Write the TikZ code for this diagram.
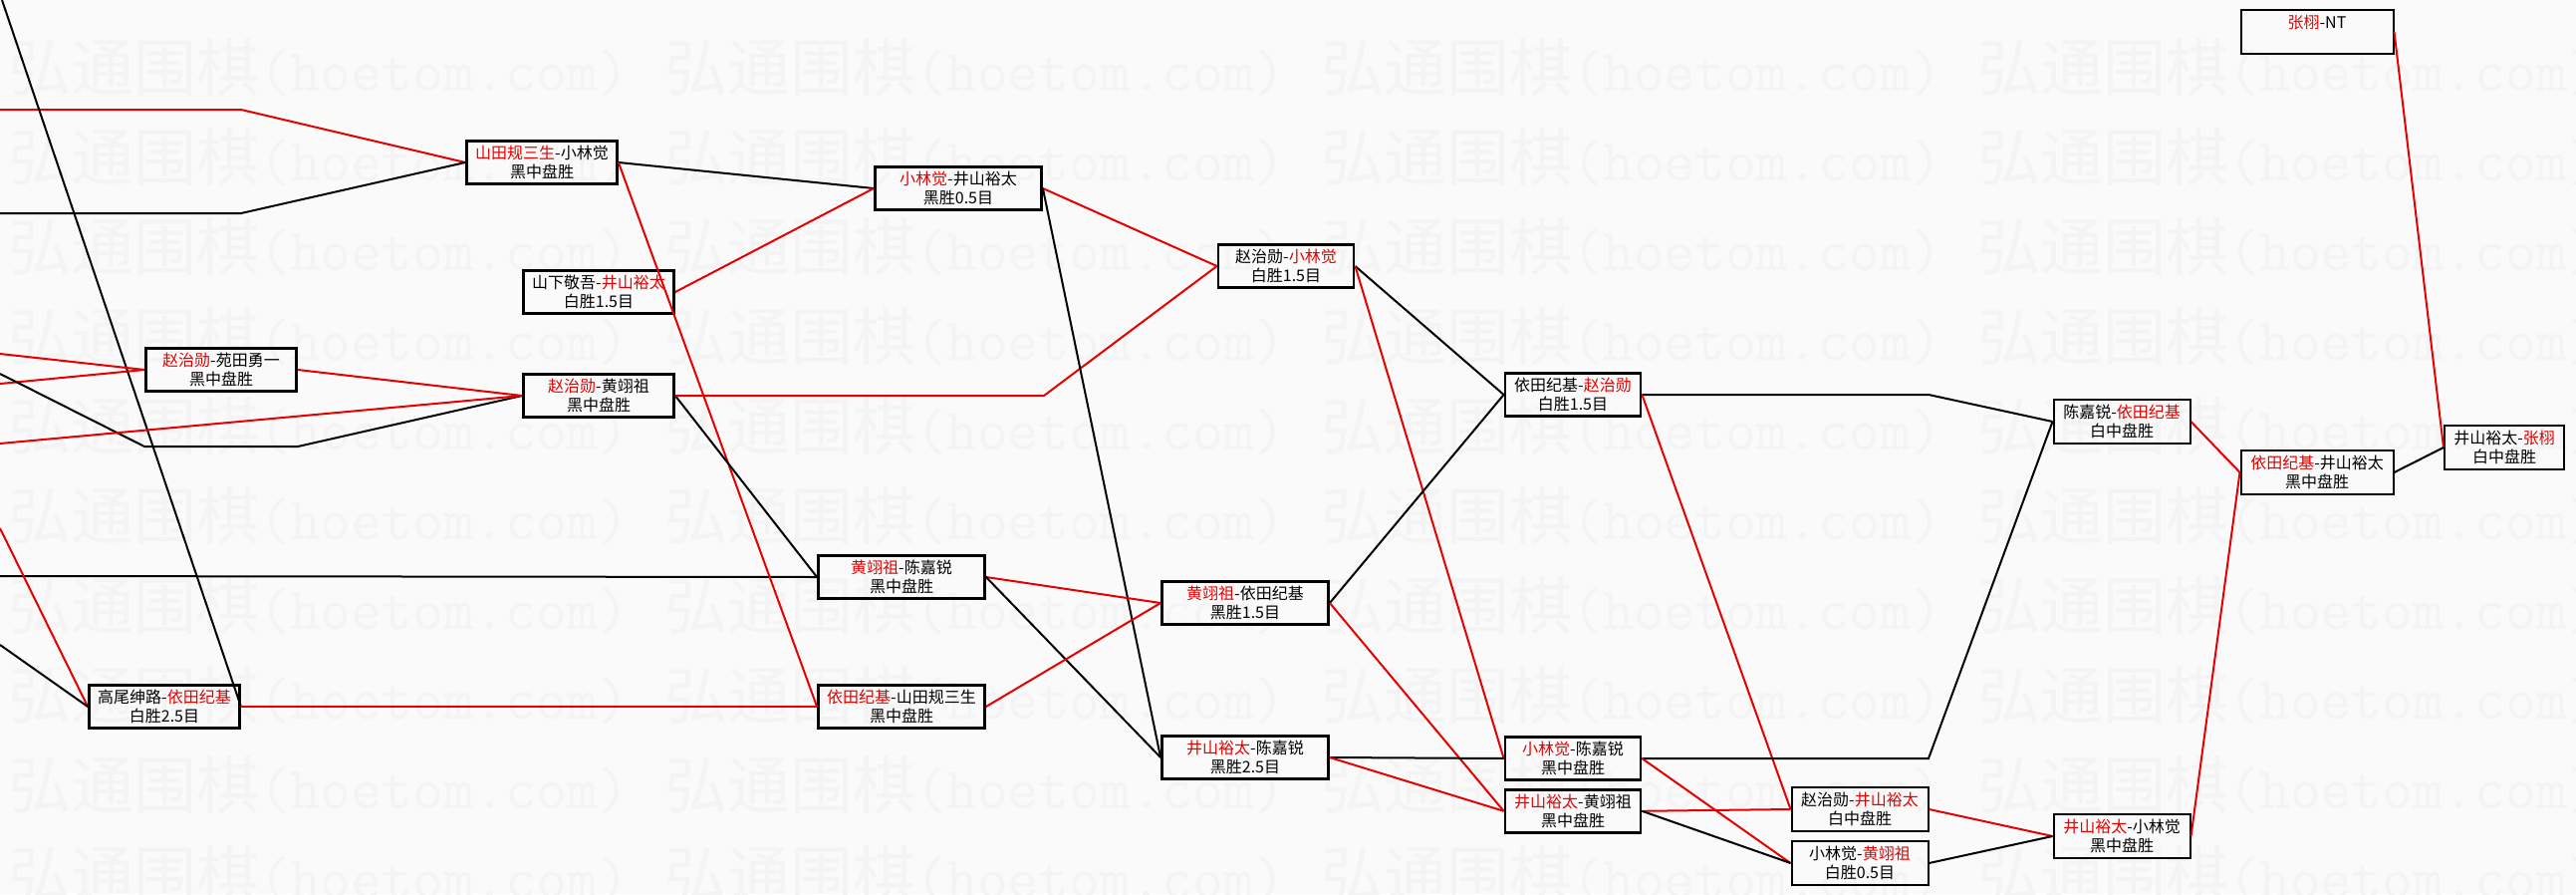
\documentclass[tikz,border=0pt]{standalone}
\usepackage{fontspec}
\newfontfamily\cjk{Noto Sans CJK SC}
\usetikzlibrary{positioning}

\definecolor{win}{RGB}{230,0,0}
\definecolor{paper}{RGB}{250,250,250}
\definecolor{wmark}{RGB}{244,244,244}
\newcommand{\winner}[1]{\textcolor{win}{#1}}

\begin{document}
\begin{tikzpicture}[
    x=1pt, y=-1pt,
    game/.style={rectangle, draw, line width=2.8pt, minimum width=151pt, minimum height=43pt, inner sep=0pt, align=center, font=\cjk\fontsize{16}{19.5}\selectfont},
    lategame/.style={game, line width=2pt, minimum height=44pt},
    wm/.style={anchor=west, inner sep=0pt, text=wmark, font=\cjk\fontsize{63}{63}\selectfont},
    blk/.style={draw, line width=2pt, black},
    rd/.style={draw, line width=2pt, win}
]

\fill[paper] (0,0) rectangle (2586,897);
\useasboundingbox (0,0) rectangle (2586,897);

% watermark
\begin{scope}
\clip (0,0) rectangle (2586,897);
\foreach \row in {0,...,9}
  \foreach \col in {0,...,3}
    \node[wm] (wm-\row-\col) at (8+659*\col, 68+90*\row) {弘通围棋{\ttfamily\fontsize{60}{63}\selectfont(hoetom.com)}};
\end{scope}

% first rounds
\node[game] (gaowei) at (165,709) {高尾绅路-\winner{依田纪基}\\白胜2.5目};
\node[game] (zhaoyuan) at (222,371) {\winner{赵治勋}-苑田勇一\\黑中盘胜};
\node[game] (yamada) at (544,163) {\winner{山田规三生}-小林觉\\黑中盘胜};
\node[game] (yamashita) at (601,293) {山下敬吾-\winner{井山裕太}\\白胜1.5目};
\node[game] (zhaohuang) at (601,397) {\winner{赵治勋}-黄翊祖\\黑中盘胜};

\node[game, minimum width=167pt] (kobaiyama) at (962,189) {\winner{小林觉}-井山裕太\\黑胜0.5目};
\node[game, minimum width=167pt] (huangchen) at (905,579) {\winner{黄翊祖}-陈嘉锐\\黑中盘胜};
\node[game, minimum width=167pt] (yodayamada) at (905,709) {\winner{依田纪基}-山田规三生\\黑中盘胜};
\node[game, minimum width=167pt] (huangyoda) at (1250,605) {\winner{黄翊祖}-依田纪基\\黑胜1.5目};
\node[game, minimum width=167pt] (iyamachen) at (1250,760) {\winner{井山裕太}-陈嘉锐\\黑胜2.5目};

\node[game, minimum width=136pt] (zhaokoba) at (1291,267) {赵治勋-\winner{小林觉}\\白胜1.5目};
\node[game, minimum width=136pt] (yodazhao) at (1579,396) {依田纪基-\winner{赵治勋}\\白胜1.5目};
\node[game, minimum width=136pt] (kobachen) at (1579,761) {\winner{小林觉}-陈嘉锐\\黑中盘胜};
\node[game, minimum width=136pt, below=7pt of kobachen] (iyamahuang) {\winner{井山裕太}-黄翊祖\\黑中盘胜};

% losers' side and final
\node[lategame, minimum width=137pt] (zhaoiyama) at (1867,812) {赵治勋-\winner{井山裕太}\\白中盘胜};
\node[lategame, minimum width=137pt, below=8pt of zhaoiyama] (kobahuang) {小林觉-\winner{黄翊祖}\\白胜0.5目};
\node[lategame, minimum width=137pt] (chenyoda) at (2130,423) {陈嘉锐-\winner{依田纪基}\\白中盘胜};
\node[lategame, minimum width=137pt] (iyamakoba) at (2130,839) {\winner{井山裕太}-小林觉\\黑中盘胜};
\node[lategame, minimum width=153pt] (yodaiyama) at (2326,474) {\winner{依田纪基}-井山裕太\\黑中盘胜};
\node[lategame, minimum width=153pt] (zhangnt) at (2326,32) {\winner{张栩}-NT\\\mbox{}};
\node[lategame, minimum width=120pt] (final) at (2514,449) {井山裕太-\winner{张栩}\\白中盘胜};

% loose ends and bends
\coordinate (inA) at (0,110);
\coordinate (bendA) at (242,110);
\coordinate (inB) at (0,214);
\coordinate (bendB) at (242,214);
\coordinate (inC) at (2,0);
\coordinate (inD) at (0,355);
\coordinate (inE) at (0,385);
\coordinate (inF) at (0,375);
\coordinate (bendF1) at (145,448);
\coordinate (bendF2) at (299,448);
\coordinate (inG) at (0,445);
\coordinate (inH) at (0,578);
\coordinate (inJ) at (0,530);
\coordinate (inK) at (0,647);
\coordinate (bendQ) at (1048,397);
\coordinate (bendCC) at (1936,396);
\coordinate (bendEE) at (1936,761);

\path [rd] (inA) -- (bendA) -- (yamada.west);
\path [blk] (inB) -- (bendB) -- (yamada.west);
\path [blk] (inC) -- (gaowei.east);
\path [rd] (inD) -- (zhaoyuan.west);
\path [rd] (inE) -- (zhaoyuan.west);
\path [blk] (inF) -- (bendF1) -- (bendF2) -- (zhaohuang.west);
\path [rd] (inG) -- (zhaohuang.west);
\path [rd] (zhaoyuan.east) -- (zhaohuang.west);
\path [blk] (inH) -- (huangchen.west);
\path [rd] (inJ) -- (gaowei.west);
\path [blk] (inK) -- (gaowei.west);
\path [rd] (gaowei.east) -- (yodayamada.west);

\path [blk] (yamada.east) -- (kobaiyama.west);
\path [rd] (yamashita.east) -- (kobaiyama.west);
\path [rd] (yamada.east) -- (yodayamada.west);
\path [blk] (zhaohuang.east) -- (huangchen.west);
\path [rd] (zhaohuang.east) -- (bendQ) -- (zhaokoba.west);

\path [rd] (kobaiyama.east) -- (zhaokoba.west);
\path [blk] (kobaiyama.east) -- (iyamachen.west);
\path [rd] (huangchen.east) -- (huangyoda.west);
\path [blk] (huangchen.east) -- (iyamachen.west);
\path [rd] (yodayamada.east) -- (huangyoda.west);

\path [blk] (zhaokoba.east) -- (yodazhao.west);
\path [rd] (zhaokoba.east) -- (kobachen.west);
\path [blk] (huangyoda.east) -- (yodazhao.west);
\path [rd] (huangyoda.east) -- (iyamahuang.west);
\path [blk] (iyamachen.east) -- (kobachen.west);
\path [rd] (iyamachen.east) -- (iyamahuang.west);

\path [blk] (yodazhao.east) -- (bendCC) -- (chenyoda.west);
\path [rd] (yodazhao.east) -- (zhaoiyama.west);
\path [blk] (kobachen.east) -- (bendEE) -- (chenyoda.west);
\path [rd] (kobachen.east) -- (kobahuang.west);
\path [rd] (iyamahuang.east) -- (zhaoiyama.west);
\path [blk] (iyamahuang.east) -- (kobahuang.west);

\path [rd] (zhaoiyama.east) -- (iyamakoba.west);
\path [blk] (kobahuang.east) -- (iyamakoba.west);
\path [rd] (chenyoda.east) -- (yodaiyama.west);
\path [rd] (iyamakoba.east) -- (yodaiyama.west);
\path [rd] (zhangnt.east) -- (final.west);
\path [blk] (yodaiyama.east) -- (final.west);

\end{tikzpicture}
\end{document}
